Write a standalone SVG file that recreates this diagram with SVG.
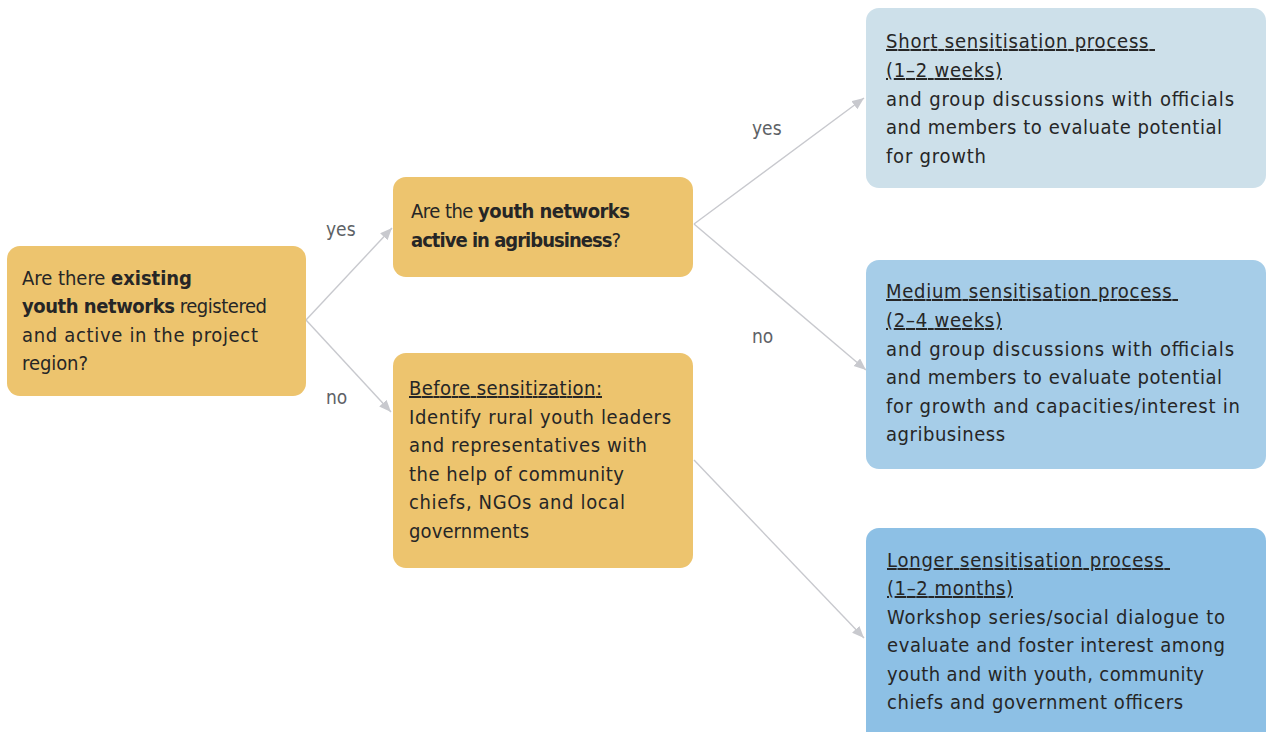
<svg xmlns="http://www.w3.org/2000/svg" width="1267" height="732" viewBox="0 0 1267 732">
  <style>
    .q { fill: #EDC46E; }
    .t { font-family: "DejaVu Sans Condensed", "Liberation Sans", sans-serif; font-size: 20px; fill: #262626; }
    .b { font-weight: bold; }
    .u { text-decoration: underline; white-space: pre; }
    .lbl { font-family: "DejaVu Sans Condensed", "Liberation Sans", sans-serif; font-size: 19px; fill: #5d6266; }
    .conn { stroke: #c8c9ce; stroke-width: 1.4; fill: none; marker-end: url(#arrow); }
  </style>
  <defs>
    <marker id="arrow" markerUnits="userSpaceOnUse" markerWidth="13" markerHeight="11" refX="12" refY="5" orient="auto">
      <path d="M0,0 L12,5 L0,10 z" fill="#c8c9ce"/>
    </marker>
  </defs>
  <rect width="1267" height="732" fill="#ffffff"/>

  <!-- connectors -->
  <g id="connectors">
    <line class="conn" x1="306" y1="320" x2="392" y2="228"/>
    <line class="conn" x1="306" y1="320" x2="391" y2="412"/>
    <line class="conn" x1="694" y1="224" x2="864" y2="98"/>
    <line class="conn" x1="694" y1="224" x2="866" y2="370"/>
    <line class="conn" x1="694" y1="460" x2="864" y2="638"/>
    <text class="lbl" x="326" y="236">yes</text>
    <text class="lbl" x="326" y="404">no</text>
    <text class="lbl" x="752" y="135">yes</text>
    <text class="lbl" x="752" y="343">no</text>
  </g>

  <!-- root question -->
  <g id="q-existing">
    <rect class="q" x="7" y="246" width="299" height="150" rx="13"/>
    <text class="t" x="22" y="285" textLength="170">Are there <tspan class="b">existing</tspan></text>
    <text class="t" x="22" y="313" textLength="245"><tspan class="b">youth networks</tspan> registered</text>
    <text class="t" x="22" y="342" textLength="236">and active in the project</text>
    <text class="t" x="22" y="370" textLength="66">region?</text>
  </g>

  <!-- second question -->
  <g id="q-agribusiness">
    <rect class="q" x="393" y="177" width="300" height="100" rx="13"/>
    <text class="t" x="411" y="218" textLength="219">Are the <tspan class="b">youth networks</tspan></text>
    <text class="t" x="411" y="247" textLength="210"><tspan class="b">active in agribusiness</tspan>?</text>
  </g>

  <!-- preparatory step -->
  <g id="before-sensitization">
    <rect class="q" x="393" y="353" width="300" height="215" rx="13"/>
    <text class="t u" x="409" y="395" textLength="193">Before sensitization:</text>
    <text class="t" x="409" y="424" textLength="262">Identify rural youth leaders</text>
    <text class="t" x="409" y="452" textLength="238">and representatives with</text>
    <text class="t" x="409" y="481" textLength="215">the help of community</text>
    <text class="t" x="409" y="509" textLength="216">chiefs, NGOs and local</text>
    <text class="t" x="409" y="538" textLength="120">governments</text>
  </g>

  <!-- outcomes -->
  <g id="short-process">
    <rect x="866" y="8" width="400" height="180" rx="13" fill="#CDE0EA"/>
    <text class="t u" x="886" y="48" textLength="269">Short sensitisation process </text>
    <text class="t u" x="886" y="77" textLength="116">(1–2 weeks)</text>
    <text class="t" x="886" y="106" textLength="348">and group discussions with officials</text>
    <text class="t" x="886" y="134" textLength="336">and members to evaluate potential</text>
    <text class="t" x="886" y="163" textLength="100">for growth</text>
  </g>

  <g id="medium-process">
    <rect x="866" y="260" width="400" height="209" rx="13" fill="#A6CDE8"/>
    <text class="t u" x="886" y="298" textLength="292">Medium sensitisation process </text>
    <text class="t u" x="886" y="327" textLength="116">(2–4 weeks)</text>
    <text class="t" x="886" y="356" textLength="348">and group discussions with officials</text>
    <text class="t" x="886" y="384" textLength="336">and members to evaluate potential</text>
    <text class="t" x="886" y="413" textLength="354">for growth and capacities/interest in</text>
    <text class="t" x="886" y="441" textLength="119">agribusiness</text>
  </g>

  <g id="longer-process">
    <rect x="866" y="528" width="400" height="230" rx="13" fill="#8DC0E5"/>
    <text class="t u" x="887" y="567" textLength="283">Longer sensitisation process </text>
    <text class="t u" x="887" y="595" textLength="126">(1–2 months)</text>
    <text class="t" x="887" y="624" textLength="338">Workshop series/social dialogue to</text>
    <text class="t" x="887" y="652" textLength="338">evaluate and foster interest among</text>
    <text class="t" x="887" y="681" textLength="317">youth and with youth, community</text>
    <text class="t" x="887" y="709" textLength="296">chiefs and government officers</text>
  </g>
</svg>
